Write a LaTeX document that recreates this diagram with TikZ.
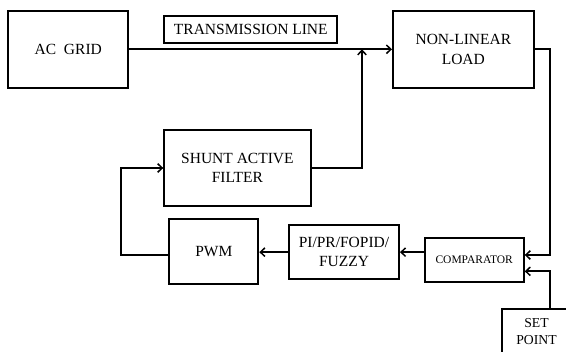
\documentclass[tikz,border=0pt]{standalone}
\usepackage{fontspec}
\setmainfont{Liberation Serif}
\usetikzlibrary{arrows.meta}
\begin{document}
\begin{tikzpicture}[x=1pt,y=-1pt,
  blk/.style={draw,line width=2pt,rectangle,inner sep=0pt,align=center,
    font=\fontsize{15.5}{19.3}\selectfont},
  arr/.style={line width=1.8pt,-{Straight Barb[length=4.5pt,width=8.5pt,line width=1.5pt]}},
  ln/.style={line width=1.8pt}]
\useasboundingbox (0,0) rectangle (566,352);
\clip (0,0) rectangle (566,352);
\node[blk,minimum width=120pt,minimum height=76.6pt] (grid) at (68.3,49.3) {AC\ \ GRID};
\node[blk,minimum width=173pt,minimum height=26.7pt] (tline) at (250.8,29.35) {TRANSMISSION LINE};
\node[blk,minimum width=140.7pt,minimum height=76.6pt] (load) at (463.35,49.3) {NON-LINEAR\\LOAD};
\node[blk,minimum width=146.2pt,minimum height=76pt] (shunt) at (237.4,168) {SHUNT ACTIVE\\FILTER};
\node[blk,minimum width=89pt,minimum height=65pt] (pwm) at (213.8,251.8) {PWM};
\node[blk,minimum width=110pt,minimum height=54.3pt] (pi) at (344,252.15) {PI/PR/FOPID/\\FUZZY};
\node[blk,minimum width=99pt,minimum height=44pt,font=\fontsize{11.5}{14}\selectfont] (comp) at (474.2,260) {COMPARATOR};
\node[blk,minimum width=69pt,minimum height=44.7pt,font=\fontsize{13.7}{16.6}\selectfont] (setp) at (536.5,331.6) {SET\\POINT};
\coordinate (rx) at (549.7,49.3);
\coordinate (jx) at (362,49.3);
\coordinate (lx) at (121,200);
\draw[arr] (grid.east) -- (load.west);
\draw[arr] (shunt.east) -| (jx);
\draw[arr] (load.east) -- (load.east -| rx) |- ([yshift=5pt]comp.east);
\draw[arr] (setp.north -| rx) |- ([yshift=-11.3pt]comp.east);
\draw[arr] (pi.east -| comp.west) -- (pi.east);
\draw[arr] (pi.west) -- (pi.west -| pwm.east);
\draw[arr] ([yshift=-3pt]pwm.west) -| (lx) |- (shunt.west);
\end{tikzpicture}
\end{document}
